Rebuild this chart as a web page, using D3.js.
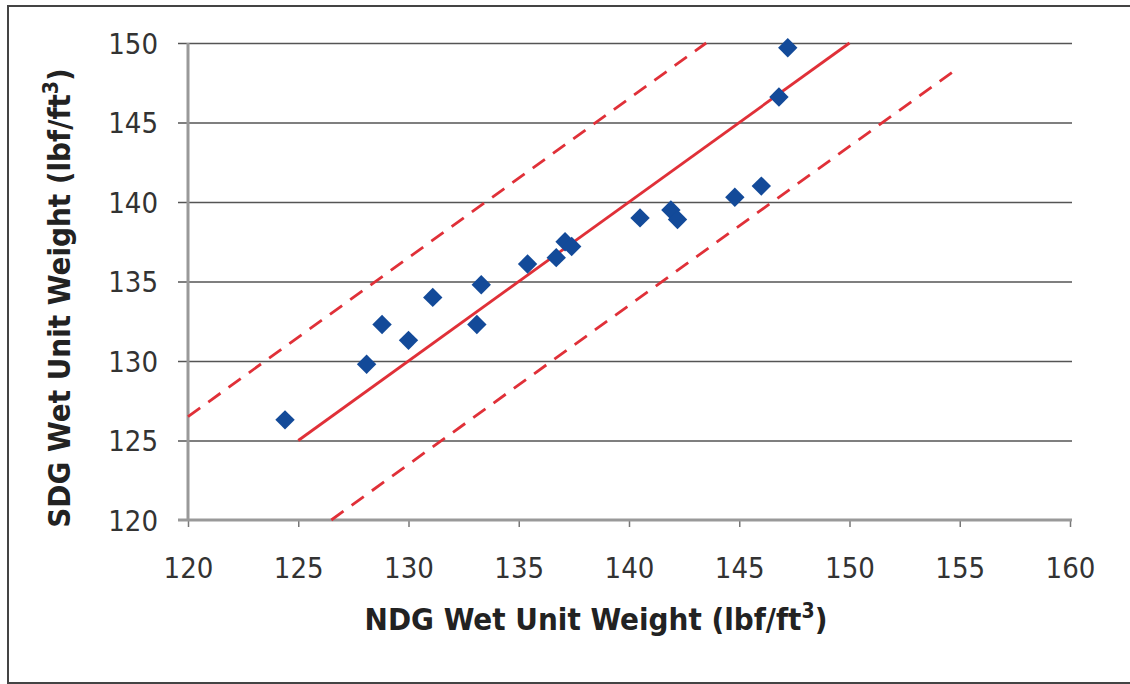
<!DOCTYPE html>
<html>
<head>
    <meta charset="utf-8">
    <style>
        body { margin: 0; background: #fff; }
        svg { display: block; }
        .tick text { font-family: "DejaVu Sans Condensed", "DejaVu Sans", Verdana, sans-serif; font-stretch: condensed; font-size: 29px; fill: #333; }
        .title { font-family: "DejaVu Sans Condensed", "DejaVu Sans", Verdana, sans-serif; font-stretch: condensed; font-size: 31px; font-weight: bold; fill: #222; }
    </style>
</head>
<body>
<svg width="1130" height="684"></svg>

<script src="https://d3js.org/d3.v7.min.js"></script>
<script>
    // data: NDG (x) vs SDG (y) wet unit weight
    let ndg = [124.4, 128.1, 128.8, 130.0, 131.1, 133.1, 133.3, 135.4, 136.7, 137.1, 137.4, 140.5, 141.9, 142.2, 144.8, 146.0, 146.8, 147.2];
    let sdg = [126.3, 129.8, 132.3, 131.3, 134.0, 132.3, 134.8, 136.1, 136.5, 137.5, 137.2, 139.0, 139.5, 138.9, 140.3, 141.0, 146.6, 149.7];

    // line of equality and +/- band
    let equalityX = [125, 150];
    let upperX = [120, 143.5];
    let lowerX = [126.5, 154.8];
    let bandOffset = 6.5;

    let xTicks = [120, 125, 130, 135, 140, 145, 150, 155, 160];
    let yTicks = [120, 125, 130, 135, 140, 145, 150];

    let svg = d3.select("svg");

    let margin = { top: 43, right: 60, bottom: 164, left: 188 };
    let width = 1130, height = 684;

    // outer frame
    svg.append("rect")
        .attr("x", 8).attr("y", 6)
        .attr("width", 1130).attr("height", 677)
        .style("fill", "none")
        .style("stroke", "#444")
        .style("stroke-width", 2);

    let x = d3.scaleLinear()
        .domain([120, 160])
        .range([margin.left, width - margin.right]);

    let y = d3.scaleLinear()
        .domain([120, 150])
        .range([height - margin.bottom, margin.top]);

    // horizontal gridlines + y ticks
    let yAxis = svg.append("g")
        .attr("class", "y axis")
        .attr("transform", `translate(${x(160) + 2},0)`)
        .call(d3.axisLeft(y).tickValues(yTicks).tickSize(x(160) + 2 - x(120) + 10).tickPadding(20));
    yAxis.select(".domain").remove();
    yAxis.selectAll(".tick line")
        .style("stroke", d => d == 120 ? "none" : "#555")
        .style("stroke-width", 1.5);
    yAxis.selectAll(".tick text").attr("dy", "0.36em");

    // x axis
    let xAxis = svg.append("g")
        .attr("class", "x axis")
        .attr("transform", `translate(0,${y(120)})`)
        .call(d3.axisBottom(x).tickValues(xTicks).tickSize(7).tickPadding(30));
    xAxis.select(".domain").remove();
    xAxis.selectAll(".tick line").style("stroke", "#777").style("stroke-width", 1.5);

    // axis lines
    svg.append("line")
        .attr("x1", x(120) - 10).attr("x2", x(160) + 2)
        .attr("y1", y(120)).attr("y2", y(120))
        .style("stroke", "#999").style("stroke-width", 3);
    svg.append("line")
        .attr("x1", x(120)).attr("x2", x(120))
        .attr("y1", y(150)).attr("y2", y(120))
        .style("stroke", "#999").style("stroke-width", 3);

    let line = d3.line()
        .x(d => x(d[0]))
        .y(d => y(d[1]));

    let red = "#e03038";

    svg.append("path")
        .attr("d", line(equalityX.map(v => [v, v])))
        .style("fill", "none").style("stroke", red).style("stroke-width", 2.8);

    svg.append("path")
        .attr("d", line(upperX.map(v => [v, v + bandOffset])))
        .style("fill", "none").style("stroke", red).style("stroke-width", 2.8)
        .style("stroke-dasharray", "15,10");

    svg.append("path")
        .attr("d", line(lowerX.map(v => [v, v - bandOffset])))
        .style("fill", "none").style("stroke", red).style("stroke-width", 2.8)
        .style("stroke-dasharray", "15,10");

    // diamonds
    svg.append("g")
        .selectAll("path")
        .data(ndg.map((d, i) => [d, sdg[i]]))
        .join("path")
        .attr("d", d3.symbol().type(d3.symbolDiamond2).size(240))
        .attr("transform", d => `translate(${x(d[0])},${y(d[1])})`)
        .style("fill", "#134a99");

    // axis titles
    let xt = svg.append("text")
        .attr("class", "title")
        .attr("x", 596).attr("y", 630)
        .attr("text-anchor", "middle")
        .text("NDG Wet Unit Weight (lbf/ft");
    xt.append("tspan").attr("dy", -12).style("font-size", "21px").text("3");
    xt.append("tspan").attr("dy", 12).text(")");

    let yt = svg.append("text")
        .attr("class", "title")
        .attr("transform", "translate(70,298) rotate(-90)")
        .attr("text-anchor", "middle")
        .text("SDG Wet Unit Weight (lbf/ft");
    yt.append("tspan").attr("dy", -12).style("font-size", "21px").text("3");
    yt.append("tspan").attr("dy", 12).text(")");
</script>
</body>
</html>
